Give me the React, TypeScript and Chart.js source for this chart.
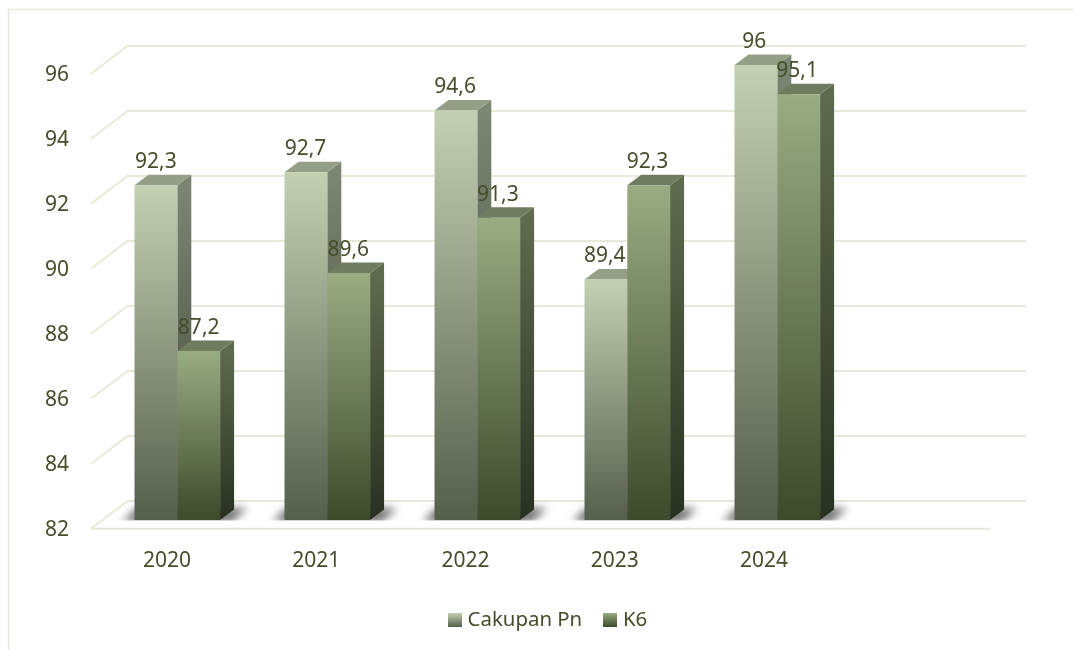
import React, { useEffect, useRef } from "react";
import { Chart, registerables } from "chart.js";

Chart.register(...registerables);

const categories = ["2020", "2021", "2022", "2023", "2024", ""];
const cakupanPn = [92.3, 92.7, 94.6, 89.4, 96];
const k6 = [87.2, 89.6, 91.3, 92.3, 95.1];
const seriesNames = ["Cakupan Pn", "K6"];
const yMin = 82;
const yMax = 96;
const yStep = 2;

const W = 1073;
const H = 650;
const AREA = { left: 102.3, right: 1002.3, top: 65, bottom: 520 };
const BAR_DX = 14;
const BAR_DY = 10.5;
const FONT = "'Noto Sans', sans-serif";
const FONT_SIZE = 21;
const LEGEND_SIZE = 20.4;
const TEXT = "#454d2b";
const LINE = "#e8ead9";

const FRONT = [
  ["#c4d0b2", "#565e4c"],
  ["#9aac82", "#3d4a2b"],
];
const SIDE = [
  ["#7d8672", "#3c4232"],
  ["#5f6b4e", "#283120"],
];
const TOP = ["#959f87", "#6f7c5e"];

function vGrad(ctx: CanvasRenderingContext2D, y0: number, y1: number, c: string[]) {
  const g = ctx.createLinearGradient(0, y0, 0, y1);
  g.addColorStop(0, c[0]);
  g.addColorStop(1, c[1]);
  return g;
}

function swatch(c: string[]) {
  const cv = document.createElement("canvas");
  cv.width = 14;
  cv.height = 14;
  const x = cv.getContext("2d")!;
  x.fillStyle = vGrad(x, 0, 14, c);
  x.fillRect(0, 0, 14, 14);
  return cv;
}

function poly(ctx: CanvasRenderingContext2D, pts: number[][]) {
  ctx.beginPath();
  pts.forEach((p, i) => (i ? ctx.lineTo(p[0], p[1]) : ctx.moveTo(p[0], p[1])));
  ctx.closePath();
}

const scene3d = {
  id: "scene3d",
  afterLayout(chart: any) {
    const lg = chart.legend;
    if (lg) {
      const dx = 549.5 - (lg.left + lg.right) / 2;
      lg.left += dx;
      lg.right += dx;
      const dy = 585 - lg.top;
      lg.top += dy;
      lg.bottom += dy;
    }
  },
  beforeDatasetsDraw(chart: any) {
    const { ctx, scales } = chart;
    const y = scales.y;
    const base = y.getPixelForValue(yMin);
    const backDy = -19;
    const frontDy = 8.7;
    const backL = 127.5;
    const backR = 1026;
    const frontL = 91;
    const frontR = 990;

    ctx.save();
    // frame
    ctx.strokeStyle = LINE;
    ctx.lineWidth = 1.5;
    ctx.strokeRect(8.5, 9.5, W + 20, H + 20);

    // walls
    ctx.lineWidth = 2;
    y.ticks.forEach((t: any) => {
      const py = y.getPixelForValue(t.value);
      ctx.beginPath();
      ctx.moveTo(frontL, py + frontDy);
      ctx.lineTo(backL, py + backDy);
      ctx.lineTo(backR, py + backDy);
      if (t.value === yMin) {
        ctx.moveTo(frontL, py + frontDy);
        ctx.lineTo(frontR, py + frontDy);
      }
      ctx.stroke();
    });

    // floor shadows
    const m0 = chart.getDatasetMeta(0).data;
    const m1 = chart.getDatasetMeta(1).data;
    ctx.save();
    ctx.beginPath();
    ctx.rect(0, 0, W, base + 0.5);
    ctx.clip();
    m0.forEach((a: any, i: number) => {
      const b = m1[i];
      const L = a.x - a.width / 2;
      const R = b.x + b.width / 2;
      ctx.save();
      ctx.filter = "blur(4.5px)";
      ctx.fillStyle = "rgba(60,60,60,0.72)";
      poly(ctx, [
        [L - 12, base + 2],
        [L + 2, base - 12],
        [R + 27, base - 12],
        [R + 12, base + 2],
      ]);
      ctx.fill();
      ctx.restore();
    });
    ctx.restore();

    // side and top faces, first series first
    m0.forEach((_: any, i: number) => {
      [m0[i], m1[i]].forEach((el: any, s: number) => {
        const L = el.x - el.width / 2;
        const R = el.x + el.width / 2;
        ctx.fillStyle = vGrad(ctx, el.y, base, SIDE[s]);
        poly(ctx, [
          [R, el.y],
          [R + BAR_DX, el.y - BAR_DY],
          [R + BAR_DX, base - BAR_DY],
          [R, base],
        ]);
        ctx.fill();
        ctx.fillStyle = TOP[s];
        poly(ctx, [
          [L, el.y],
          [L + BAR_DX, el.y - BAR_DY],
          [R + BAR_DX, el.y - BAR_DY],
          [R, el.y],
        ]);
        ctx.fill();
      });
    });
    ctx.restore();
  },
  afterDatasetsDraw(chart: any) {
    const { ctx } = chart;
    ctx.save();
    ctx.font = `${FONT_SIZE}px ${FONT}`;
    ctx.fillStyle = TEXT;
    ctx.textAlign = "center";
    ctx.textBaseline = "middle";
    chart.data.datasets.forEach((ds: any, d: number) => {
      chart.getDatasetMeta(d).data.forEach((el: any, i: number) => {
        const label = String(ds.data[i]).replace(".", ",");
        ctx.fillText(label, el.x - 0.4 * i, el.y - 23);
      });
    });
    ctx.restore();
  },
};

export default function App() {
  const ref = useRef<HTMLCanvasElement>(null);
  useEffect(() => {
    const chart = new Chart(ref.current!, {
      type: "bar",
      data: {
        labels: categories,
        datasets: [cakupanPn, k6].map((values, s) => ({
          label: seriesNames[s],
          data: values,
          borderWidth: 0,
          backgroundColor: (c: any) => {
            const ch = c.chart;
            if (!ch.chartArea || c.raw == null) return FRONT[s][0];
            const y = ch.scales.y;
            return vGrad(ch.ctx, y.getPixelForValue(c.raw), y.getPixelForValue(yMin), FRONT[s]);
          },
        })),
      },
      options: {
        animation: false,
        responsive: false,
        devicePixelRatio: 1,
        datasets: { bar: { categoryPercentage: 86 / 150, barPercentage: 1 } },
        layout: {
          padding: { left: 23, right: W - AREA.right, top: AREA.top, bottom: 20 },
        },
        plugins: {
          title: { display: false },
          tooltip: { enabled: false },
          legend: {
            display: true,
            position: "bottom",
            labels: {
              color: TEXT,
              font: { family: FONT, size: LEGEND_SIZE },
              usePointStyle: true,
              pointStyleWidth: 5.6,
              padding: 24.9,
              generateLabels: () =>
                seriesNames.map((text, s) => ({
                  text,
                  datasetIndex: s,
                  fontColor: TEXT,
                  hidden: false,
                  lineWidth: 0,
                  strokeStyle: "transparent",
                  fillStyle: "transparent",
                  pointStyle: swatch(FRONT[s]),
                })),
            },
          },
        },
        scales: {
          x: {
            grid: { display: false, drawTicks: false },
            border: { display: false },
            afterFit: (s: any) => {
              s.height = H - AREA.bottom - 20 - (s.chart.legend?.height ?? 0);
            },
            afterUpdate: (s: any) => {
              s.getPixelForTick = (i: number) => s.getPixelForValue(s.ticks[i].value) - 0.75 * i;
            },
            ticks: {
              color: TEXT,
              font: { family: FONT, size: FONT_SIZE },
              autoSkip: false,
              maxRotation: 0,
              minRotation: 0,
              padding: 28,
              labelOffset: -10.3,
            },
          },
          y: {
            min: yMin,
            max: yMax,
            grid: { display: false, drawTicks: false },
            border: { display: false },
            afterFit: (s: any) => {
              s.width = AREA.left - 23;
            },
            ticks: {
              stepSize: yStep,
              color: TEXT,
              font: { family: FONT, size: FONT_SIZE },
              padding: 33.3,
              labelOffset: 10.5,
            },
          },
        },
      },
      plugins: [scene3d],
    } as any);
    return () => chart.destroy();
  }, []);
  return (
    <div style={{ position: "absolute", left: 0, top: 0, width: W, height: H, overflow: "hidden", background: "#fff" }}>
      <canvas ref={ref} width={W} height={H} style={{ display: "block" }} />
    </div>
  );
}
